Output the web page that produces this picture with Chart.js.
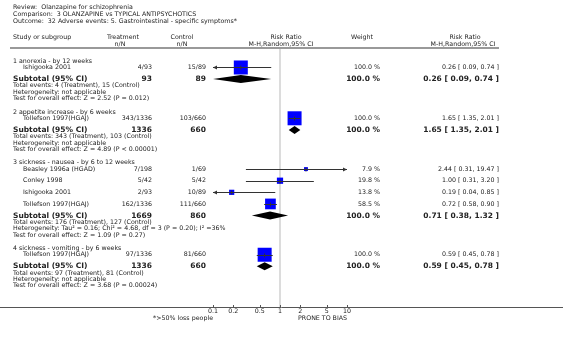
<!DOCTYPE html>
<html>
<head>
<meta charset="utf-8">
<script src="https://cdn.jsdelivr.net/npm/chart.js@4"></script>
<style>
  body { margin: 0; background: #fff; }
  #wrap { width: 566px; height: 337px; }
</style>
</head>
<body>
<div id="wrap"><canvas id="forestChart" width="566" height="337"></canvas></div>
<script>
// data
const groupTitles = [
    '1 anorexia - by 12 weeks',
    '2 appetite increase - by 6 weeks',
    '3 sickness - nausea - by 6 to 12 weeks',
    '4 sickness - vomiting - by 6 weeks'
];
const studyGroup = [0, 1, 2, 2, 2, 2, 3];
const studyNames = ['Ishigooka 2001', 'Tollefson 1997(HGAJ)', 'Beasley 1996a (HGAD)', 'Conley 1998',
    'Ishigooka 2001', 'Tollefson 1997(HGAJ)', 'Tollefson 1997(HGAJ)'];
const treatNN = ['4/93', '343/1336', '7/198', '5/42', '2/93', '162/1336', '97/1336'];
const controlNN = ['15/89', '103/660', '1/69', '5/42', '10/89', '111/660', '81/660'];
const studyWeight = [100, 100, 7.9, 19.8, 13.8, 58.5, 100];
const studyRR = [0.26, 1.65, 2.44, 1.00, 0.19, 0.72, 0.59];
const studyLo = [0.09, 1.35, 0.31, 0.31, 0.04, 0.58, 0.45];
const studyHi = [0.74, 2.01, 19.47, 3.20, 0.85, 0.90, 0.78];

const subTreatN = [93, 1336, 1669, 1336];
const subControlN = [89, 660, 860, 660];
const subRR = [0.26, 1.65, 0.71, 0.59];
const subLo = [0.09, 1.35, 0.38, 0.45];
const subHi = [0.74, 2.01, 1.32, 0.78];
const totalEvents = [
    'Total events: 4 (Treatment), 15 (Control)',
    'Total events: 343 (Treatment), 103 (Control)',
    'Total events: 176 (Treatment), 127 (Control)',
    'Total events: 97 (Treatment), 81 (Control)'
];
const heterogeneity = [
    'Heterogeneity: not applicable',
    'Heterogeneity: not applicable',
    'Heterogeneity: Tau\u00B2 = 0.16; Chi\u00B2 = 4.68, df = 3 (P = 0.20); I\u00B2 =36%',
    'Heterogeneity: not applicable'
];
const overallEffect = [
    'Test for overall effect: Z = 2.52 (P = 0.012)',
    'Test for overall effect: Z = 4.89 (P < 0.00001)',
    'Test for overall effect: Z = 1.09 (P = 0.27)',
    'Test for overall effect: Z = 3.68 (P = 0.00024)'
];
const tickValues = [0.1, 0.2, 0.5, 1, 2, 5, 10];

const titleLines = [
    'Review:  Olanzapine for schizophrenia',
    'Comparison:  3 OLANZAPINE vs TYPICAL ANTIPSYCHOTICS',
    'Outcome:  32 Adverse events: 5. Gastrointestinal - specific symptoms*'
];
const leftLabel = '*>50% loss people';
const rightLabel = 'PRONE TO BIAS';

// row layout (vertical positions in px)
const rows = [];
const studyY = [];
const subY = [];
(function buildRows() {
    let y = 53;
    groupTitles.forEach((title, g) => {
        rows.push({ text: title, x: 13, y: y });
        let yy = y + 6.5;
        studyGroup.forEach((sg, s) => {
            if (sg !== g) return;
            studyY[s] = yy;
            yy += 12;
        });
        subY[g] = yy;
        rows.push({ text: totalEvents[g], x: 13, y: yy + 6.8 });
        rows.push({ text: heterogeneity[g], x: 13, y: yy + 13.5 });
        rows.push({ text: overallEffect[g], x: 13, y: yy + 20 });
        y = yy + 34;
    });
})();

const TXT = '#222';
const FONT = '"DejaVu Sans", sans-serif';
const SMALL = 6.3;
const BIG = 7.5;
const fmt2 = v => v.toFixed(2);
const ciText = (r, l, h) => fmt2(r) + ' [ ' + fmt2(l) + ', ' + fmt2(h) + ' ]';

function boxRadius(w) {
    const side = 14 * Math.sqrt(w / 100);
    return side / 2 / Math.SQRT1_2;
}

function text(ctx, str, x, y, align, bold, size) {
    ctx.font = (bold ? 'bold ' : '') + size + 'px ' + FONT;
    ctx.textAlign = align;
    ctx.textBaseline = 'middle';
    ctx.fillStyle = TXT;
    ctx.fillText(str, x, y);
}

const forestPlugin = {
    id: 'forest',
    beforeDatasetsDraw(chart) {
        const ctx = chart.ctx;
        const xs = chart.scales.x;
        const area = chart.chartArea;
        ctx.save();
        // line of no effect
        ctx.strokeStyle = '#dcdcdc';
        ctx.lineWidth = 2;
        ctx.beginPath();
        ctx.moveTo(xs.getPixelForValue(1), 49);
        ctx.lineTo(xs.getPixelForValue(1), area.bottom);
        ctx.stroke();
        // header rule
        ctx.strokeStyle = '#999';
        ctx.lineWidth = 2;
        ctx.beginPath();
        ctx.moveTo(10, 48);
        ctx.lineTo(499, 48);
        ctx.stroke();
        // bottom axis rule
        ctx.strokeStyle = '#555';
        ctx.lineWidth = 1;
        ctx.beginPath();
        ctx.moveTo(0, area.bottom + 0.5);
        ctx.lineTo(563, area.bottom + 0.5);
        ctx.stroke();
        // tick marks
        tickValues.forEach(v => {
            const px = Math.round(xs.getPixelForValue(v)) + 0.5;
            ctx.beginPath();
            ctx.moveTo(px, area.bottom);
            ctx.lineTo(px, area.bottom - 2);
            ctx.stroke();
        });
        ctx.restore();
    },
    afterDatasetsDraw(chart) {
        const ctx = chart.ctx;
        const xs = chart.scales.x;
        const ys = chart.scales.y;
        const xMin = xs.getPixelForValue(0.1);
        const xMax = xs.getPixelForValue(10);
        ctx.save();

        // confidence intervals
        ctx.strokeStyle = '#333';
        ctx.fillStyle = '#333';
        ctx.lineWidth = 1;
        studyRR.forEach((rr, s) => {
            const y = Math.round(ys.getPixelForValue(studyY[s])) + 0.5;
            const x1 = Math.max(xs.getPixelForValue(studyLo[s]), xMin);
            const x2 = Math.min(xs.getPixelForValue(studyHi[s]), xMax);
            const xc = xs.getPixelForValue(rr);
            ctx.beginPath();
            ctx.moveTo(x1, y);
            ctx.lineTo(x2, y);
            ctx.moveTo(xc, y - 2);
            ctx.lineTo(xc, y + 2);
            ctx.stroke();
            if (studyLo[s] < 0.1) {
                ctx.beginPath();
                ctx.moveTo(xMin, y);
                ctx.lineTo(xMin + 4, y - 2);
                ctx.lineTo(xMin + 4, y + 2);
                ctx.closePath();
                ctx.fill();
            }
            if (studyHi[s] > 10) {
                ctx.beginPath();
                ctx.moveTo(xMax, y);
                ctx.lineTo(xMax - 4, y - 2);
                ctx.lineTo(xMax - 4, y + 2);
                ctx.closePath();
                ctx.fill();
            }
        });

        // pooled diamonds
        ctx.fillStyle = '#000';
        subRR.forEach((rr, g) => {
            const y = ys.getPixelForValue(subY[g]);
            const x1 = Math.max(xs.getPixelForValue(subLo[g]), xMin);
            const x2 = Math.min(xs.getPixelForValue(subHi[g]), xMax);
            const xc = xs.getPixelForValue(rr);
            ctx.beginPath();
            ctx.moveTo(x1, y);
            ctx.lineTo(xc, y - 4);
            ctx.lineTo(x2, y);
            ctx.lineTo(xc, y + 4);
            ctx.closePath();
            ctx.fill();
        });

        // titles and column headers
        titleLines.forEach((t, i) => text(ctx, t, 13, 7 + i * 7, 'left', false, SMALL));
        text(ctx, 'Study or subgroup', 13, 37, 'left', false, SMALL);
        text(ctx, 'Treatment', 123, 37, 'center', false, SMALL);
        text(ctx, 'n/N', 120, 44, 'center', false, SMALL);
        text(ctx, 'Control', 182, 37, 'center', false, SMALL);
        text(ctx, 'n/N', 182, 44, 'center', false, SMALL);
        text(ctx, 'Risk Ratio', 286, 37, 'center', false, SMALL);
        text(ctx, 'M-H,Random,95% CI', 281, 44, 'center', false, SMALL);
        text(ctx, 'Weight', 362, 37, 'center', false, SMALL);
        text(ctx, 'Risk Ratio', 465, 37, 'center', false, SMALL);
        text(ctx, 'M-H,Random,95% CI', 463, 44, 'center', false, SMALL);

        // group rows
        rows.forEach(r => text(ctx, r.text, r.x, ys.getPixelForValue(r.y), 'left', false, SMALL));

        // study rows
        studyNames.forEach((name, s) => {
            const y = ys.getPixelForValue(studyY[s]);
            text(ctx, name, 23, y, 'left', false, SMALL);
            text(ctx, treatNN[s], 152, y, 'right', false, SMALL);
            text(ctx, controlNN[s], 206, y, 'right', false, SMALL);
            text(ctx, studyWeight[s].toFixed(1) + ' %', 380, y, 'right', false, SMALL);
            text(ctx, ciText(studyRR[s], studyLo[s], studyHi[s]), 499, y, 'right', false, SMALL);
        });

        // subtotal rows
        subRR.forEach((rr, g) => {
            const y = ys.getPixelForValue(subY[g]);
            text(ctx, 'Subtotal (95% CI)', 13, y, 'left', true, BIG);
            text(ctx, String(subTreatN[g]), 152, y, 'right', true, BIG);
            text(ctx, String(subControlN[g]), 206, y, 'right', true, BIG);
            text(ctx, '100.0 %', 380, y, 'right', true, BIG);
            text(ctx, ciText(rr, subLo[g], subHi[g]), 499, y, 'right', true, BIG);
        });

        // favours labels
        text(ctx, leftLabel, 213, 318, 'right', false, SMALL);
        text(ctx, rightLabel, 298, 318, 'left', false, SMALL);
        ctx.restore();
    }
};

let forestChart;

function chart() {
    const ctx = document.getElementById('forestChart').getContext('2d');
    forestChart = new Chart(ctx, {
        type: 'scatter',
        data: {
            datasets: [
                {
                    label: 'Studies',
                    data: studyRR.map((rr, s) => ({ x: rr, y: studyY[s] })),
                    pointStyle: 'rect',
                    pointRadius: studyWeight.map(boxRadius),
                    backgroundColor: '#0000ff',
                    borderColor: '#0000ff',
                    borderWidth: 0
                }
            ]
        },
        options: {
            responsive: false,
            animation: false,
            layout: {
                padding: { left: 213, right: 219, top: 0, bottom: 0 }
            },
            plugins: {
                legend: { display: false },
                tooltip: { enabled: false }
            },
            scales: {
                x: {
                    type: 'logarithmic',
                    min: 0.1,
                    max: 10,
                    afterBuildTicks: scale => {
                        scale.ticks = tickValues.map(v => ({ value: v }));
                    },
                    afterFit: scale => {
                        scale.height = 30;
                    },
                    grid: { display: false, drawTicks: false },
                    border: { display: false },
                    ticks: {
                        padding: 1,
                        autoSkip: false,
                        maxRotation: 0,
                        color: TXT,
                        font: { size: SMALL, family: 'DejaVu Sans' },
                        callback: value => String(value)
                    }
                },
                y: {
                    type: 'linear',
                    display: false,
                    min: 0,
                    max: 307,
                    reverse: true
                }
            }
        },
        plugins: [forestPlugin]
    });
}

window.onload = chart;
</script>
</body>
</html>
